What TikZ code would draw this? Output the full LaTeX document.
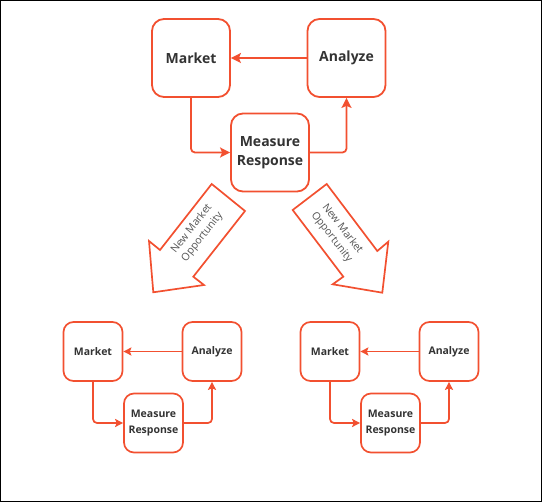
\documentclass[tikz,border=0pt]{standalone}
\usepackage{fontspec}
\setmainfont{Open Sans}
\usetikzlibrary{arrows.meta}
\definecolor{accent}{RGB}{242,80,48}
\definecolor{txt}{RGB}{51,51,51}
\definecolor{txtlight}{RGB}{85,85,85}
\tikzset{
  bigbox/.style={draw=accent, line width=1.8pt, rounded corners=12pt, minimum width=78pt, minimum height=78pt, align=center, text=txt, font=\fontsize{14}{19}\selectfont\bfseries, inner sep=0pt},
  smallbox/.style={draw=accent, line width=1.7pt, rounded corners=10pt, minimum width=59pt, minimum height=59pt, align=center, text=txt, font=\fontsize{10.5}{15.5}\selectfont\bfseries, inner sep=0pt},
  link/.style={draw=accent, line width=1.8pt, rounded corners=4pt, -{Stealth[length=10pt,width=10pt,inset=2pt]}},
  slink/.style={draw=accent, line width=1.7pt, rounded corners=4pt, -{Stealth[length=8pt,width=8pt,inset=1.5pt]}},
  fat/.style={draw=accent, line width=1.7pt, fill=white, line join=miter},
  fatlabel/.style={align=center, text=txtlight, font=\fontsize{10.5}{13.5}\selectfont}
}
\begin{document}
\begin{tikzpicture}[x=1pt,y=-1pt]
\draw[black, line width=1pt] (0.5,0.5) rectangle (541.5,501.5);
\useasboundingbox (0,0) rectangle (542,502);
% top cycle
\node[bigbox] (m0) at (191,58) {Market};
\node[bigbox] (a0) at (346.5,58) {Analyze};
\node[bigbox] (r0) at (270,152.5) {Measure\\Response};
\draw[link] (a0) -- (m0);
\draw[link] (m0.south) |- (r0.west);
\draw[link] (r0.east) -| (a0.south);
% big arrows
\draw[fat] (211.7,184) -- (245,211) -- (193.3,276.7) -- (204,285) -- (153.3,292.3) -- (149,241) -- (160,250) -- cycle;
\node[fatlabel, rotate=52] (l1) at (197,233) {New Market\\Opportunity};
\draw[fat] (326.7,184) -- (292.7,210) -- (343.3,276.7) -- (332.7,284.3) -- (382.3,292.7) -- (388.3,241.7) -- (377.3,251) -- cycle;
\node[fatlabel, rotate=-52] (l2) at (337,233) {New Market\\Opportunity};
% bottom left cycle
\node[smallbox] (m1) at (93,351.5) {Market};
\node[smallbox] (a1) at (212,351.5) {Analyze};
\node[smallbox] (r1) at (153.5,423) {Measure\\Response};
\draw[slink] (a1) -- (m1);
\draw[slink] (m1.south) |- (r1.west);
\draw[slink] (r1.east) -| (a1.south);
% bottom right cycle
\node[smallbox] (m2) at (330,351.5) {Market};
\node[smallbox] (a2) at (449,351.5) {Analyze};
\node[smallbox] (r2) at (390.5,423) {Measure\\Response};
\draw[slink] (a2) -- (m2);
\draw[slink] (m2.south) |- (r2.west);
\draw[slink] (r2.east) -| (a2.south);
\end{tikzpicture}
\end{document}
